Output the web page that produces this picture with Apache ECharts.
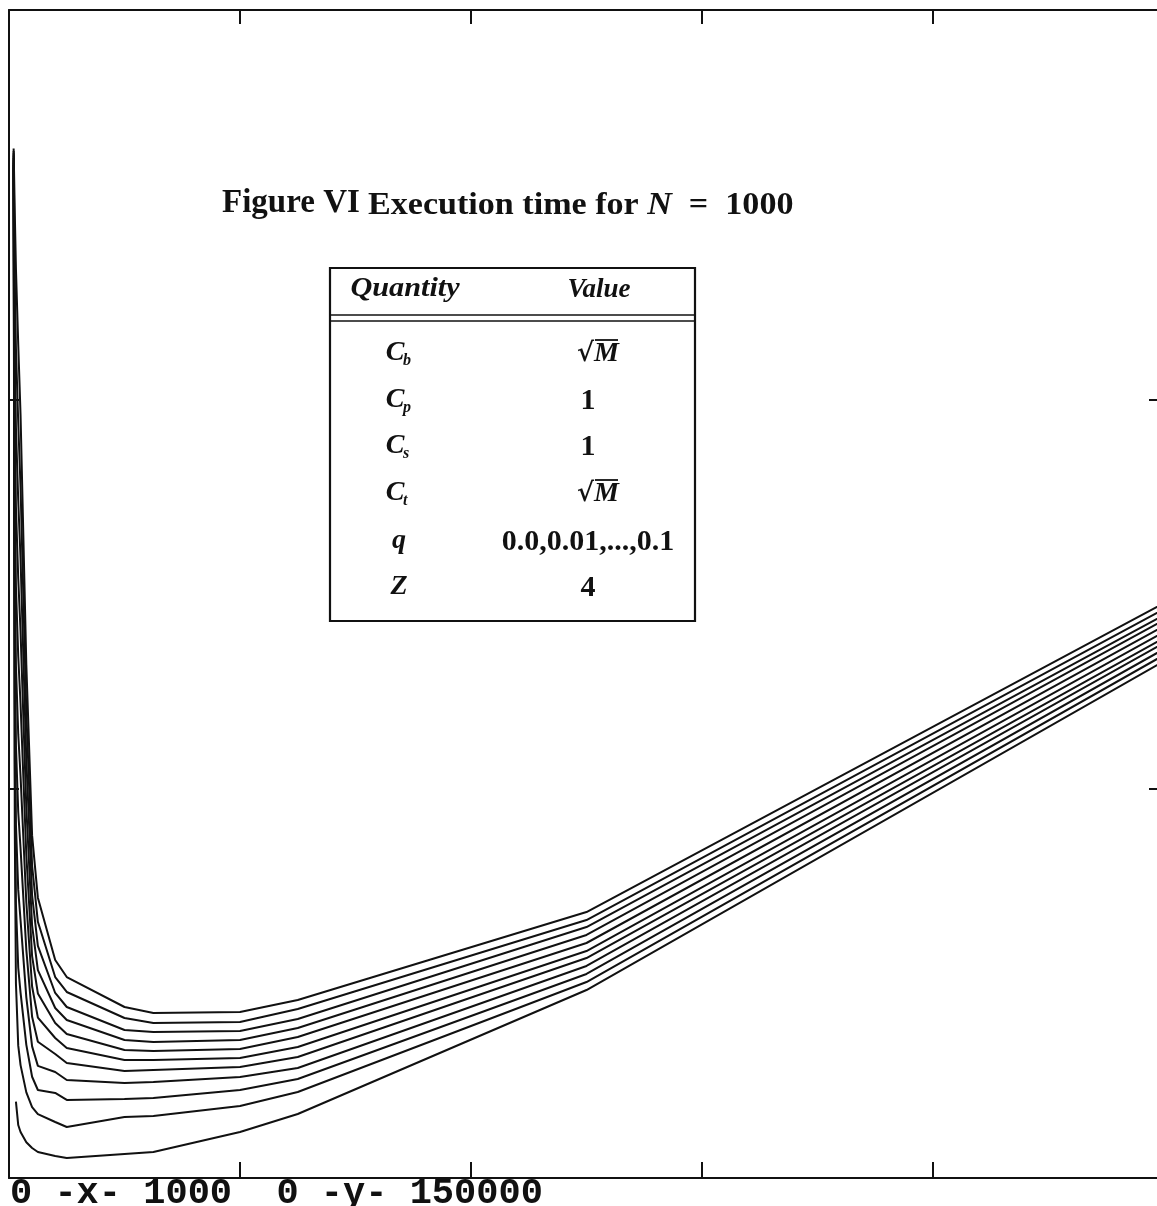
<!DOCTYPE html>
<html><head><meta charset="utf-8">
<script src="https://cdn.jsdelivr.net/npm/echarts@6/dist/echarts.min.js"></script>
<style>html,body{margin:0;padding:0;background:#fff;overflow:hidden}#c{width:1157px;height:1206px}</style>
</head><body><div id="c"></div>
<script>
// x values (M) sampled by every curve
const M = [4, 5, 6, 8, 10, 15, 20, 25, 40, 50, 100, 125, 200, 250, 500, 1000];
// execution time per curve, q = 0.0 ... 0.1
const q000 = [null, null, 9800, 6800, 5900, 4600, 3850, 3340, 2830, 2570, 3080, 3340, 5900, 8220, 24140, 66390];
const q001 = [129500, 45000, 25000, 17000, 14500, 11000, 9100, 8200, 7190, 6550, 7830, 7960, 9250, 11040, 25170, 67160];
const q002 = [129800, 53800, 35200, 27000, 23800, 17100, 13000, 11300, 10920, 10020, 10150, 10270, 11300, 12710, 26200, 67930];
const q003 = [130100, 62600, 45400, 37000, 33100, 23200, 16900, 14400, 13610, 12590, 12200, 12330, 12970, 14130, 27230, 68700];
const q004 = [130400, 71300, 55600, 47000, 42300, 29300, 20700, 17500, 15920, 14770, 13740, 13870, 14250, 15540, 28250, 69350];
const q005 = [130700, 80100, 65800, 57000, 51600, 35400, 24600, 20600, 17980, 16690, 15150, 15150, 15410, 16820, 29150, 70120];
const q006 = [131000, 88900, 76000, 67000, 60900, 41500, 28500, 23700, 19910, 18490, 16440, 16310, 16570, 18110, 30180, 70890];
const q007 = [131300, 97700, 86200, 77000, 70200, 47600, 32400, 26700, 21830, 20290, 17720, 17470, 17720, 19260, 31210, 71660];
const q008 = [131600, 106500, 96400, 87000, 79500, 53700, 36300, 29800, 23760, 21960, 19010, 18750, 18880, 20420, 32230, 72300];
const q009 = [131900, 115200, 106600, 97000, 88700, 59800, 40100, 32900, 25810, 23890, 20550, 19900, 20030, 21700, 33130, 73070];
const q010 = [132200, 124000, 116800, 107000, 98000, 65900, 44000, 36000, 28000, 25810, 21960, 21190, 21310, 22860, 34160, 73840];
const curves = [q000, q001, q002, q003, q004, q005, q006, q007, q008, q009, q010];
const qNames = ['0.0','0.01','0.02','0.03','0.04','0.05','0.06','0.07','0.08','0.09','0.1'];
const xRange = [0, 1000], xStep = 200;
const yRange = [0, 150000], yStep = 50000;
// texts
const titleA = 'Figure VI';
const titleB = 'Execution time for ';
const titleN = 'N';
const titleC = '  =  1000';
const tableHead = ['Quantity', 'Value'];
const tableQty = [['C','b'], ['C','p'], ['C','s'], ['C','t'], ['q',''], ['Z','']];
const tableVal = ['√M', '1', '1', '√M', '0.0,0.01,...,0.1', '4'];
const footer = '0 -x- 1000  0 -y- 150000';

const chart = echarts.init(document.getElementById('c'), null, {renderer: 'canvas'});
const SERIF = '"Liberation Serif", "DejaVu Serif", serif';
const black = '#111';

function axisX(pos, len) {
  return {type: 'value', min: xRange[0], max: xRange[1], interval: xStep, position: pos,
    axisLine: {show: true, onZero: false, lineStyle: {color: black, width: 2}},
    axisTick: {show: true, inside: true, length: len, lineStyle: {color: black, width: 2}},
    axisLabel: {show: false}, splitLine: {show: false}};
}
function axisY(pos, len) {
  return {type: 'value', min: yRange[0], max: yRange[1], interval: yStep, position: pos,
    axisLine: {show: true, onZero: false, lineStyle: {color: black, width: 2}},
    axisTick: {show: true, inside: true, length: len, lineStyle: {color: black, width: 2}},
    axisLabel: {show: false}, splitLine: {show: false}};
}

const series = curves.map((vals, i) => ({
  name: 'q=' + qNames[i], type: 'line', xAxisIndex: 0, yAxisIndex: 0,
  data: M.map((m, j) => [m, vals[j]]),
  showSymbol: false, symbol: 'none', clip: true, connectNulls: false,
  lineStyle: {color: black, width: 2}, silent: true, animation: false
}));

function txt(x, y, text, font, align, sx) {
  return {type: 'text', x: x, y: y, scaleX: sx || 1, silent: true,
    style: {text: text, font: font, fill: black, align: align || 'center', verticalAlign: 'middle'}};
}

const g = [];
// title
g.push(txt(222, 203, titleA, 'bold 33px ' + SERIF, 'left'));
g.push({type: 'text', x: 368, y: 206, scaleX: 1.065, silent: true,
  style: {text: '{a|' + titleB + '}{n|' + titleN + '}{a|' + titleC + '}', align: 'left', verticalAlign: 'middle',
    rich: {a: {font: 'bold 32px ' + SERIF, fill: black}, n: {font: 'italic bold 32px ' + SERIF, fill: black}}}});
// table frame
g.push({type: 'rect', shape: {x: 330, y: 268, width: 365, height: 353}, silent: true,
  style: {fill: 'none', stroke: black, lineWidth: 2.2}});
g.push({type: 'line', shape: {x1: 330, y1: 315, x2: 695, y2: 315}, silent: true, style: {stroke: black, lineWidth: 1.6}});
g.push({type: 'line', shape: {x1: 330, y1: 321, x2: 695, y2: 321}, silent: true, style: {stroke: black, lineWidth: 1.6}});
g.push(txt(405, 289, tableHead[0], 'italic bold 27px ' + SERIF, 'center', 1.12));
g.push(txt(599, 290, tableHead[1], 'italic bold 27px ' + SERIF));
const rowY = [353, 400, 446, 493, 541, 587];
tableQty.forEach((q, i) => {
  g.push(txt(q[1] ? 395 : 399, rowY[i], q[0], 'italic bold 28px ' + SERIF));
  if (q[1]) g.push(txt(403, rowY[i] + 8, q[1], 'italic bold 16px ' + SERIF, 'left'));
});
tableVal.forEach((v, i) => {
  if (v === '√M') {
    g.push({type: 'text', x: 598, y: rowY[i] + 1, silent: true,
      style: {text: '{r|√}{m|M}', align: 'center', verticalAlign: 'middle',
        rich: {r: {font: 'bold 26px "DejaVu Serif", serif', fill: black},
               m: {font: 'italic bold 28px ' + SERIF, fill: black}}}});
    g.push({type: 'line', shape: {x1: 595, y1: rowY[i] - 13, x2: 618, y2: rowY[i] - 13}, silent: true,
      style: {stroke: black, lineWidth: 1.8}});
  } else {
    g.push(txt(588, rowY[i] + 1, v, 'bold 30px ' + SERIF));
  }
});
// footer
g.push(txt(10, 1194, footer, 'bold 37px "Liberation Mono", "DejaVu Sans Mono", monospace', 'left'));

chart.setOption({
  animation: false,
  backgroundColor: '#fff',
  grid: {left: 9, top: 10, width: 1155, height: 1168, containLabel: false, outerBoundsMode: 'none'},
  xAxis: [axisX('bottom', 16), axisX('top', 14)],
  yAxis: [axisY('left', 10), axisY('right', 15)],
  series: series,
  graphic: g
});
</script></body></html>
